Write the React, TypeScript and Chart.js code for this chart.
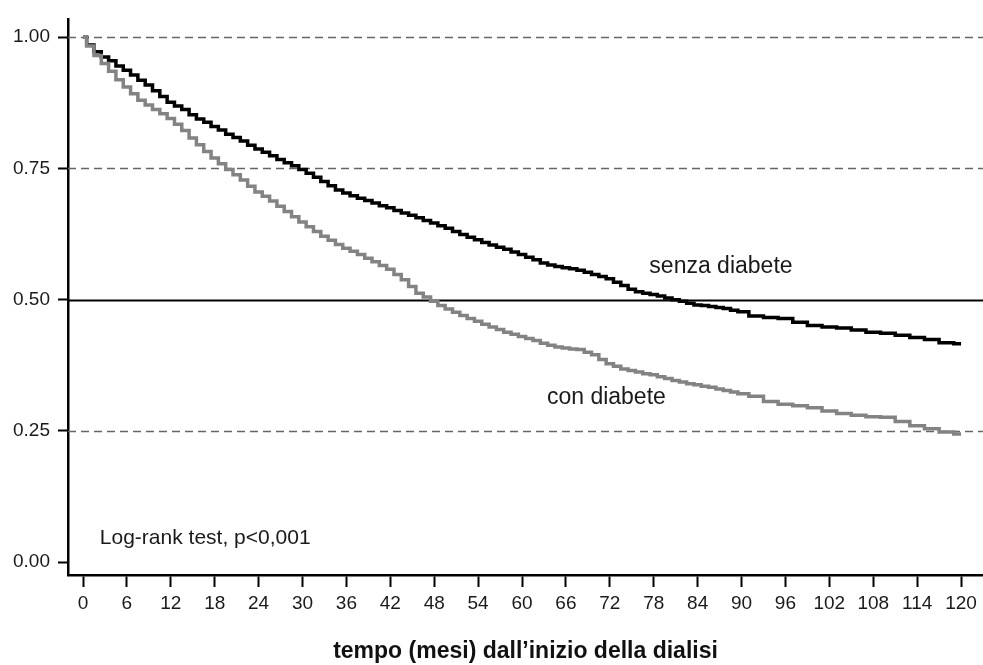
import React, { useEffect, useRef } from "react";
import { Chart, registerables } from "chart.js";

Chart.register(...registerables);

const months = [
  0, 1, 2, 3, 4, 5, 6, 7, 8, 9,
  10, 11, 12, 13, 14, 15, 16, 17, 18, 19,
  20, 21, 22, 23, 24, 25, 26, 27, 28, 29,
  30, 31, 32, 33, 34, 35, 36, 37, 38, 39,
  40, 41, 42, 43, 44, 45, 46, 47, 48, 49,
  50, 51, 52, 53, 54, 55, 56, 57, 58, 59,
  60, 61, 62, 63, 64, 65, 66, 67, 68, 69,
  70, 71, 72, 73, 74, 75, 76, 77, 78, 79,
  80, 81, 82, 83, 84, 85, 86, 87, 88, 89,
  90, 92, 94, 96, 98, 100, 102, 104, 106, 108,
  110, 112, 114, 116, 118, 120,
];

const senzaDiabete = [
  1.0, 0.985, 0.972, 0.962, 0.955, 0.945, 0.937, 0.928, 0.918, 0.909,
  0.898, 0.887, 0.876, 0.869, 0.862, 0.852, 0.844, 0.838, 0.83, 0.823,
  0.815, 0.809, 0.802, 0.794, 0.787, 0.781, 0.774, 0.767, 0.761, 0.755,
  0.748, 0.741, 0.733, 0.725, 0.717, 0.709, 0.703, 0.698, 0.693, 0.689,
  0.684, 0.679, 0.675, 0.67, 0.665, 0.661, 0.656, 0.651, 0.646, 0.641,
  0.636, 0.63, 0.624, 0.619, 0.614, 0.609, 0.604, 0.6, 0.596, 0.591,
  0.586, 0.581, 0.576, 0.57, 0.566, 0.563, 0.561, 0.559, 0.556, 0.552,
  0.548, 0.544, 0.54, 0.533, 0.527, 0.52, 0.515, 0.512, 0.51, 0.507,
  0.503, 0.5, 0.497, 0.493, 0.49, 0.489, 0.487, 0.485, 0.483, 0.48,
  0.477, 0.469, 0.466, 0.464, 0.457, 0.451, 0.448, 0.446, 0.442, 0.438,
  0.436, 0.432, 0.428, 0.424, 0.418, 0.416,
];

const conDiabete = [
  1.0, 0.983, 0.965, 0.95, 0.935, 0.919, 0.905, 0.892, 0.88, 0.871,
  0.862, 0.854, 0.845, 0.834, 0.822, 0.808, 0.795, 0.782, 0.77, 0.759,
  0.748, 0.738, 0.728, 0.716, 0.705, 0.697, 0.688, 0.678, 0.668, 0.658,
  0.648, 0.639, 0.63, 0.621, 0.613, 0.605, 0.598, 0.592, 0.586, 0.579,
  0.572, 0.565, 0.558, 0.548, 0.538, 0.525, 0.512, 0.505, 0.497, 0.489,
  0.482, 0.476, 0.47, 0.464, 0.459, 0.453, 0.448, 0.443, 0.438, 0.434,
  0.43, 0.426, 0.422, 0.417, 0.413, 0.41, 0.408, 0.406, 0.405, 0.4,
  0.395, 0.386, 0.378, 0.373, 0.368, 0.365, 0.362, 0.359, 0.357, 0.353,
  0.35, 0.346, 0.343, 0.34, 0.338, 0.335, 0.333, 0.33, 0.327, 0.324,
  0.321, 0.316, 0.306, 0.301, 0.298, 0.294, 0.288, 0.283, 0.28, 0.277,
  0.276, 0.268, 0.26, 0.254, 0.248, 0.244,
];

const xTickValues = [0, 6, 12, 18, 24, 30, 36, 42, 48, 54, 60, 66, 72, 78, 84, 90, 96, 102, 108, 114, 120];
const yTickValues = [0, 0.25, 0.5, 0.75, 1.0];

const annotationTexts = ["senza diabete", "con diabete", "Log-rank test, p<0,001"];
const annotationMonths = [77.4, 63.4, 2.3];
const annotationValues = [0.562, 0.314, 0.045];

const xAxisTitle = "tempo (mesi) dall\u2019inizio della dialisi";

const FONT = "'Liberation Sans', Arial, Helvetica, sans-serif";

const refLinesPlugin = {
  id: "refLines",
  beforeDatasetsDraw(chart: any) {
    const { ctx, chartArea, scales } = chart;
    const y = scales.y;
    ctx.save();
    yTickValues.forEach((v) => {
      if (v === 0) return;
      const py = Math.round(y.getPixelForValue(v)) + 0.5;
      ctx.beginPath();
      if (v === 0.5) {
        ctx.setLineDash([]);
        ctx.strokeStyle = "#000";
        ctx.lineWidth = 2;
      } else {
        ctx.setLineDash([8, 5]);
        ctx.strokeStyle = "#666";
        ctx.lineWidth = 1.5;
      }
      ctx.moveTo(chartArea.left, py);
      ctx.lineTo(chartArea.right, py);
      ctx.stroke();
    });
    ctx.restore();
  },
};

const textPlugin = {
  id: "textLabels",
  afterDatasetsDraw(chart: any) {
    const { ctx, scales } = chart;
    ctx.save();
    ctx.fillStyle = "#1a1a1a";
    ctx.textAlign = "left";
    ctx.textBaseline = "middle";
    annotationTexts.forEach((t, i) => {
      ctx.font = `${i < 2 ? 23 : 21}px ${FONT}`;
      const px = scales.x.getPixelForValue(annotationMonths[i]);
      const py = scales.y.getPixelForValue(annotationValues[i]);
      ctx.fillText(t, px, py);
    });
    ctx.restore();
  },
};

export default function App() {
  const canvasRef = useRef<HTMLCanvasElement | null>(null);

  useEffect(() => {
    document.body.style.margin = "0";
    const canvas = canvasRef.current;
    if (!canvas) return;
    const toPoints = (vals: number[]) => months.map((m, i) => ({ x: m, y: vals[i] }));
    const chart = new Chart(canvas, {
      type: "line",
      data: {
        datasets: [
          {
            label: "con diabete",
            data: toPoints(conDiabete),
            borderColor: "#838383",
            borderWidth: 3.5,
            stepped: "middle",
            pointRadius: 0,
            fill: false,
          },
          {
            label: "senza diabete",
            data: toPoints(senzaDiabete),
            borderColor: "#000000",
            borderWidth: 3.5,
            stepped: "middle",
            pointRadius: 0,
            fill: false,
          },
        ],
      },
      options: {
        responsive: false,
        animation: false,
        layout: { padding: { top: 12, right: 0, left: 0, bottom: 0 } },
        plugins: {
          legend: { display: false },
          tooltip: { enabled: false },
        },
        scales: {
          x: {
            type: "linear",
            min: -2.05,
            max: 123,
            afterBuildTicks: (scale: any) => {
              scale.ticks = xTickValues.map((v) => ({ value: v }));
            },
            afterFit: (scale: any) => {
              scale.height = 90;
            },
            ticks: {
              autoSkip: false,
              maxRotation: 0,
              padding: 5,
              color: "#1a1a1a",
              font: { family: FONT, size: 19 },
              callback: (v: any) => String(v),
            },
            grid: {
              drawOnChartArea: false,
              drawTicks: true,
              tickLength: 12,
              tickColor: "#000",
              tickWidth: 2,
            },
            border: { display: true, color: "#000", width: 2.5 },
            title: {
              display: true,
              text: xAxisTitle,
              color: "#111",
              font: { family: FONT, size: 23, weight: "bold", lineHeight: 1.2 },
              padding: { top: 0, bottom: 0 },
            },
          },
          y: {
            type: "linear",
            min: -0.0244,
            max: 1.0338,
            afterBuildTicks: (scale: any) => {
              scale.ticks = yTickValues.map((v) => ({ value: v }));
            },
            afterFit: (scale: any) => {
              scale.width = 68;
            },
            ticks: {
              autoSkip: false,
              padding: 8,
              color: "#1a1a1a",
              font: { family: FONT, size: 19 },
              callback: (v: any) => Number(v).toFixed(2),
            },
            grid: {
              drawOnChartArea: false,
              drawTicks: true,
              tickLength: 10,
              tickColor: "#000",
              tickWidth: 2,
            },
            border: { display: true, color: "#000", width: 2.5 },
          },
        },
      },
      plugins: [refLinesPlugin, textPlugin],
    } as any);
    return () => chart.destroy();
  }, []);

  return (
    <div style={{ position: "absolute", left: 0, top: 0, width: 983, height: 665, background: "#fff" }}>
      <canvas ref={canvasRef} width={983} height={665} style={{ display: "block" }} />
    </div>
  );
}
